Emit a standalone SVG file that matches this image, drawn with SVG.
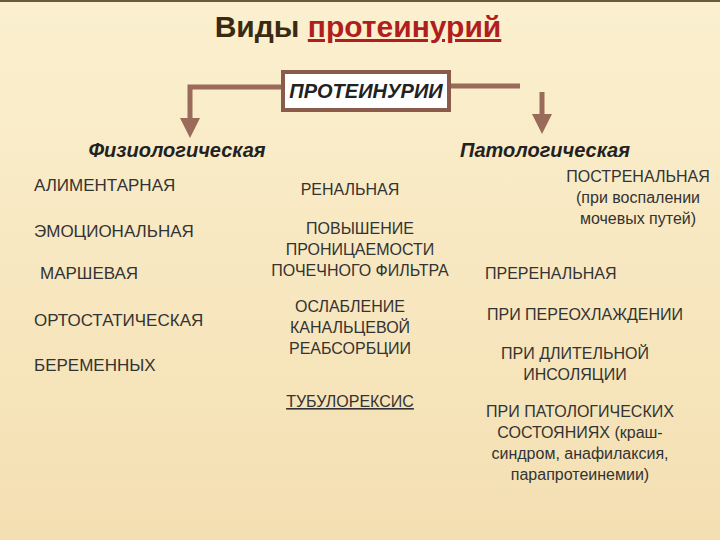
<svg xmlns="http://www.w3.org/2000/svg" width="720" height="540" viewBox="0 0 720 540">
<defs>
<linearGradient id="bg" x1="0" y1="0" x2="0" y2="1"><stop offset="0" stop-color="#fbf0cf"/><stop offset="1" stop-color="#f4dfb2"/></linearGradient>
<marker id="ar" markerWidth="4" markerHeight="4" refX="2" refY="2" orient="auto" markerUnits="strokeWidth"><path d="M0,0 L4,2 L0,4 z" fill="#9a6a5a"/></marker>
<style>
.t{font-family:"Liberation Sans",Arial,sans-serif;font-size:16px;fill:#333}
.l{font-size:17px}
.c{text-anchor:middle}
.h{font-family:"Liberation Sans",Arial,sans-serif;font-style:italic;font-weight:bold;font-size:20px;fill:#222}
.ln{stroke:#9a6a5a;stroke-width:5;fill:none}
</style>
</defs>
<rect width="720" height="540" fill="url(#bg)"/>
<rect x="0" y="0" width="720" height="2" fill="#6b5a3a"/>
<text x="358" y="37" font-family="Liberation Sans,Arial,sans-serif" font-size="30" font-weight="bold" fill="#3a2a12" text-anchor="middle">Виды <tspan fill="#b01e1e" text-decoration="underline">протеинурий</tspan></text>
<g id="connectors">
<polyline class="ln" points="282,87 190,87 190,128" marker-end="url(#ar)"/>
<line class="ln" x1="450" y1="86" x2="520" y2="86"/>
<line class="ln" x1="542" y1="92" x2="542" y2="124" marker-end="url(#ar)"/>
</g>
<g id="root"><rect x="283" y="72" width="166" height="38" fill="#fff" stroke="#8a5a4a" stroke-width="4"/>
<text class="h c" x="366" y="98" font-size="19" font-weight="normal">ПРОТЕИНУРИИ</text></g>
<g id="phys"><text class="h c" x="177" y="157">Физиологическая</text>
<text class="t l" x="34" y="191">АЛИМЕНТАРНАЯ</text>
<text class="t l" x="34" y="237">ЭМОЦИОНАЛЬНАЯ</text>
<text class="t l" x="40" y="279">МАРШЕВАЯ</text>
<text class="t l" x="34" y="326">ОРТОСТАТИЧЕСКАЯ</text>
<text class="t l" x="34" y="371">БЕРЕМЕННЫХ</text></g>
<g id="path"><text class="h c" x="545" y="157">Патологическая</text>
<text class="t c" x="638" y="182">ПОСТРЕНАЛЬНАЯ</text>
<text class="t c" x="638" y="203">(при воспалении</text>
<text class="t c" x="638" y="224">мочевых путей)</text>
<text class="t" x="485" y="279">ПРЕРЕНАЛЬНАЯ</text>
<text class="t c" x="585" y="320">ПРИ ПЕРЕОХЛАЖДЕНИИ</text>
<text class="t c" x="575" y="359">ПРИ ДЛИТЕЛЬНОЙ</text>
<text class="t c" x="575" y="380">ИНСОЛЯЦИИ</text>
<text class="t c" x="580" y="417">ПРИ ПАТОЛОГИЧЕСКИХ</text>
<text class="t c" x="580" y="438">СОСТОЯНИЯХ (краш-</text>
<text class="t c" x="580" y="459">синдром, анафилаксия,</text>
<text class="t c" x="580" y="480">парапротеинемии)</text></g>
<g id="ren">
<text class="t c" x="350" y="195">РЕНАЛЬНАЯ</text>
<text class="t c" x="360" y="234">ПОВЫШЕНИЕ</text>
<text class="t c" x="360" y="255">ПРОНИЦАЕМОСТИ</text>
<text class="t c" x="360" y="276">ПОЧЕЧНОГО ФИЛЬТРА</text>
<text class="t c" x="350" y="312">ОСЛАБЛЕНИЕ</text>
<text class="t c" x="350" y="333">КАНАЛЬЦЕВОЙ</text>
<text class="t c" x="350" y="354">РЕАБСОРБЦИИ</text>
<text class="t c" x="350" y="407" text-decoration="underline">ТУБУЛОРЕКСИС</text></g>
</svg>
